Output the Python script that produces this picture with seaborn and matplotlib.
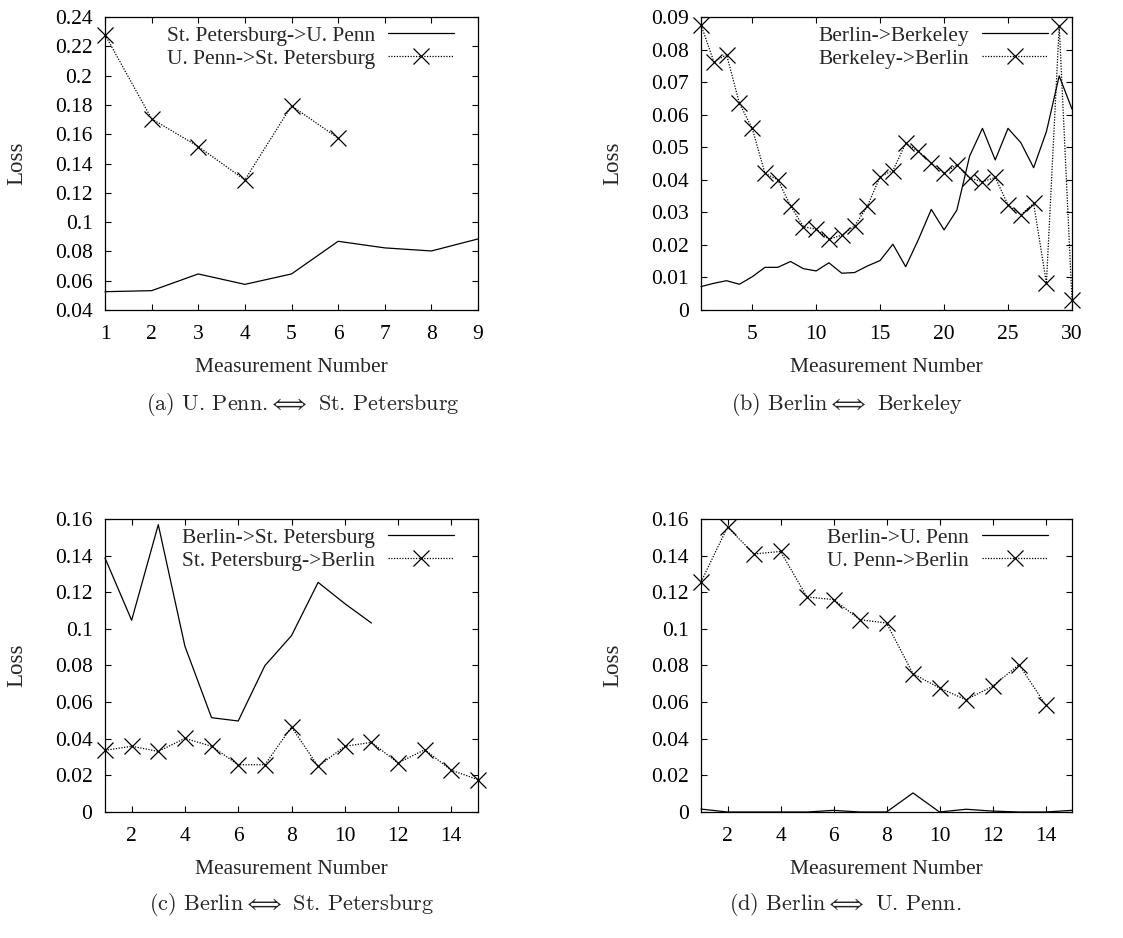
import matplotlib
matplotlib.use("Agg")
import matplotlib.pyplot as plt
import seaborn as sns
import numpy as np
import pandas as pd
from matplotlib.ticker import FuncFormatter

# ---------------- data ----------------
# (a) U. Penn <-> St. Petersburg
a_x_solid = [1, 2, 3, 4, 5, 6, 7, 8, 9]
a_spb_to_upenn = [0.0525, 0.0532, 0.0646, 0.0575, 0.0646, 0.0869, 0.0824, 0.0803, 0.0885]
a_x_cross = [1, 2, 3, 4, 5, 6]
a_upenn_to_spb = [0.2279, 0.1705, 0.1516, 0.1288, 0.1794, 0.1573]

# (b) Berlin <-> Berkeley
b_x = list(range(1, 31))
b_berlin_to_berkeley = [0.0072, 0.0082, 0.0090, 0.0079, 0.0102, 0.0131, 0.0131, 0.0149,
                        0.0127, 0.0120, 0.0145, 0.0113, 0.0115, 0.0135, 0.0152, 0.0202,
                        0.0133, 0.0217, 0.0309, 0.0246, 0.0307, 0.0473, 0.0558, 0.0461,
                        0.0558, 0.0514, 0.0437, 0.0548, 0.0719, 0.0617]
b_berkeley_to_berlin = [0.0876, 0.0763, 0.0784, 0.0635, 0.0558, 0.0420, 0.0400, 0.0320,
                        0.0256, 0.0248, 0.0217, 0.0230, 0.0258, 0.0318, 0.0410, 0.0428,
                        0.0512, 0.0487, 0.0451, 0.0420, 0.0446, 0.0405, 0.0394, 0.0407,
                        0.0323, 0.0292, 0.0328, 0.0082, 0.0873, 0.0031]

# (c) Berlin <-> St. Petersburg
c_x_solid = list(range(1, 12))
c_berlin_to_spb = [0.1387, 0.1047, 0.1569, 0.0905, 0.0515, 0.0497, 0.0799, 0.0963,
                   0.1254, 0.1138, 0.1032]
c_x_cross = list(range(1, 16))
c_spb_to_berlin = [0.0337, 0.0359, 0.0331, 0.0402, 0.0359, 0.0258, 0.0258, 0.0464,
                   0.0249, 0.0359, 0.0380, 0.0268, 0.0340, 0.0228, 0.0177]

# (d) Berlin <-> U. Penn
d_x_solid = list(range(1, 16))
d_berlin_to_upenn = [0.0016, 0.0, 0.0, 0.0, 0.0, 0.0009, 0.0, 0.0, 0.0104, 0.0,
                     0.0015, 0.0005, 0.0, 0.0, 0.0009]
d_x_cross = list(range(1, 15))
d_upenn_to_berlin = [0.1256, 0.1556, 0.1409, 0.1423, 0.1174, 0.1160, 0.1050, 0.1032,
                     0.0755, 0.0677, 0.0613, 0.0686, 0.0805, 0.0586]

panels = [
    dict(xs=a_x_solid, ys=a_spb_to_upenn, ls_label="St. Petersburg->U. Penn",
         xc=a_x_cross, yc=a_upenn_to_spb, lc_label="U. Penn->St. Petersburg",
         xlim=(1, 9), xticks=list(range(1, 10)), ylim=(0.04, 0.24),
         yticks=np.arange(0.04, 0.2401, 0.02),
         caption="(a) U. Penn.$\\Longleftrightarrow$ St. Petersburg"),
    dict(xs=b_x, ys=b_berlin_to_berkeley, ls_label="Berlin->Berkeley",
         xc=b_x, yc=b_berkeley_to_berlin, lc_label="Berkeley->Berlin",
         xlim=(1, 30), xticks=[5, 10, 15, 20, 25, 30], ylim=(0, 0.09),
         yticks=np.arange(0, 0.0901, 0.01),
         caption="(b) Berlin$\\Longleftrightarrow$ Berkeley"),
    dict(xs=c_x_solid, ys=c_berlin_to_spb, ls_label="Berlin->St. Petersburg",
         xc=c_x_cross, yc=c_spb_to_berlin, lc_label="St. Petersburg->Berlin",
         xlim=(1, 15), xticks=list(range(2, 15, 2)), ylim=(0, 0.16),
         yticks=np.arange(0, 0.1601, 0.02),
         caption="(c) Berlin$\\Longleftrightarrow$ St. Petersburg"),
    dict(xs=d_x_solid, ys=d_berlin_to_upenn, ls_label="Berlin->U. Penn",
         xc=d_x_cross, yc=d_upenn_to_berlin, lc_label="U. Penn->Berlin",
         xlim=(1, 15), xticks=list(range(2, 15, 2)), ylim=(0, 0.16),
         yticks=np.arange(0, 0.1601, 0.02),
         caption="(d) Berlin$\\Longleftrightarrow$ U. Penn."),
]

# ---------------- style ----------------
sns.set_style("ticks")
plt.rcParams["font.family"] = ["Liberation Serif", "DejaVu Serif"]
plt.rcParams["mathtext.fontset"] = "cm"

fig = plt.figure(figsize=(11.23, 9.38), dpi=100)
W, H = 1123, 938
FS = 15.5

# axes boxes in pixels: left, top, right, bottom
boxes = [(105, 17, 478, 310), (701, 17, 1072, 310),
         (105, 519, 478, 812), (701, 519, 1072, 812)]
caption_pos = [(303, 404), (847, 404), (292, 904), (845, 904)]

fmt = FuncFormatter(lambda v, p: "%g" % round(v, 4))

for p, (l, t, r, b), (cx, cy) in zip(panels, boxes, caption_pos):
    ax = fig.add_axes([l / W, 1 - b / H, (r - l) / W, (b - t) / H])
    df_s = pd.DataFrame({"x": p["xs"], "y": p["ys"]})
    df_c = pd.DataFrame({"x": p["xc"], "y": p["yc"]})
    sns.lineplot(data=df_s, x="x", y="y", ax=ax, color="black", lw=0.9,
                 label=p["ls_label"], clip_on=False)
    sns.lineplot(data=df_c, x="x", y="y", ax=ax, color="black", lw=0.9,
                 linestyle=(0, (1, 1.2)), marker="x", markersize=12,
                 markeredgecolor="black", markeredgewidth=0.9,
                 label=p["lc_label"], clip_on=False)
    ax.set_xlim(*p["xlim"])
    ax.set_ylim(*p["ylim"])
    ax.set_xticks(p["xticks"])
    ax.set_yticks(p["yticks"])
    ax.yaxis.set_major_formatter(fmt)
    ax.xaxis.set_major_formatter(fmt)
    ax.tick_params(direction="in", top=True, right=True, length=4.5, width=0.8,
                   labelsize=FS, colors="black")
    ax.tick_params(axis="y", pad=9)
    ax.tick_params(axis="x", pad=11)
    for s in ax.spines.values():
        s.set_linewidth(0.9)
        s.set_color("black")
        s.set_visible(True)
    ax.set_xlabel("Measurement Number", fontsize=FS)
    ax.set_ylabel("Loss", fontsize=16.5)
    ax.xaxis.set_label_coords(0.5, -58 / (b - t))
    ax.xaxis.label.set_va("center")
    ax.yaxis.set_label_coords(-88 / (r - l), 0.5)
    ax.yaxis.label.set_va("center")
    ax.legend(loc="upper right", frameon=False, markerfirst=False,
              fontsize=FS, handlelength=3.1, handletextpad=0.6,
              borderaxespad=0.0, labelspacing=0.15,
              bbox_to_anchor=(1 - 15 / (r - l), 1.0))
    fig.text(cx / W, 1 - cy / H, p["caption"], ha="center", va="center",
             fontsize=16, family="cmr10")

fig.savefig("out.png", dpi=100)
